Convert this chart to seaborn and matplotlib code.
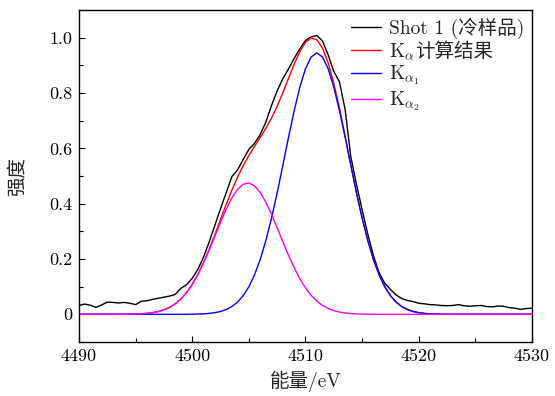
import numpy as np
import pandas as pd
import matplotlib
matplotlib.use("Agg")
import matplotlib.pyplot as plt
import seaborn as sns
from matplotlib.ticker import MultipleLocator

# energy grid (eV), 0.5 eV steps
energy = np.arange(4490.0, 4530.01, 0.5)

shot1 = [
    0.032, 0.037, 0.033, 0.025, 0.034, 0.044, 0.043, 0.041, 0.043, 0.040,
    0.035, 0.047, 0.049, 0.054, 0.058, 0.062, 0.066, 0.072, 0.094, 0.107,
    0.130, 0.163, 0.207, 0.262, 0.322, 0.382, 0.440, 0.498, 0.522, 0.560,
    0.596, 0.618, 0.650, 0.695, 0.755, 0.808, 0.852, 0.887, 0.925, 0.960,
    0.990, 1.003, 1.008, 0.988, 0.938, 0.878, 0.840, 0.740, 0.570, 0.470,
    0.378, 0.290, 0.212, 0.150, 0.112, 0.090, 0.070, 0.057, 0.050, 0.046,
    0.040, 0.038, 0.035, 0.034, 0.032, 0.031, 0.032, 0.035, 0.031, 0.029,
    0.031, 0.032, 0.028, 0.027, 0.030, 0.029, 0.024, 0.022, 0.018, 0.021,
    0.022,
]

ka_fit = [
    0, 0, 0, 0, 0, 0, 0, 0, 0.0003, 0.0006,
    0.0011, 0.0020, 0.0036, 0.0061, 0.0101, 0.0162, 0.0251, 0.0379, 0.0554, 0.0785,
    0.1084, 0.1448, 0.1876, 0.2361, 0.2887, 0.3432, 0.3974, 0.4490, 0.4960, 0.5377,
    0.5743, 0.6073, 0.6389, 0.6722, 0.7095, 0.7523, 0.8009, 0.8529, 0.9043, 0.9497,
    0.9831, 0.9988, 0.9928, 0.9626, 0.9088, 0.8344, 0.7443, 0.6444, 0.5414, 0.4410,
    0.3486, 0.2670, 0.1983, 0.1428, 0.0996, 0.0674, 0.0442, 0.0281, 0.0173, 0.0103,
    0.0060, 0.0034, 0.0018, 0.0009, 0.0004, 0.0002, 0, 0, 0, 0,
    0, 0, 0, 0, 0, 0, 0, 0, 0, 0,
    0,
]

ka1 = [
    0, 0, 0, 0, 0, 0, 0, 0, 0, 0,
    0, 0, 0, 0, 0, 0, 0, 0, 0, 0,
    0.0005, 0.0010, 0.0018, 0.0034, 0.0060, 0.0103, 0.0173, 0.0281, 0.0442, 0.0674,
    0.0996, 0.1427, 0.1981, 0.2666, 0.3477, 0.4394, 0.5385, 0.6395, 0.7360, 0.8210,
    0.8877, 0.9303, 0.9450, 0.9303, 0.8877, 0.8210, 0.7360, 0.6395, 0.5385, 0.4394,
    0.3477, 0.2666, 0.1981, 0.1427, 0.0996, 0.0674, 0.0442, 0.0281, 0.0173, 0.0103,
    0.0060, 0.0034, 0.0018, 0.0009, 0.0004, 0.0002, 0, 0, 0, 0,
    0, 0, 0, 0, 0, 0, 0, 0, 0, 0,
    0,
]

ka2 = [
    0, 0, 0, 0, 0, 0, 0, 0, 0.0003, 0.0006,
    0.0011, 0.0020, 0.0036, 0.0061, 0.0101, 0.0162, 0.0251, 0.0379, 0.0554, 0.0785,
    0.1079, 0.1438, 0.1858, 0.2327, 0.2827, 0.3329, 0.3801, 0.4209, 0.4518, 0.4703,
    0.4747, 0.4646, 0.4408, 0.4056, 0.3618, 0.3129, 0.2624, 0.2134, 0.1683, 0.1287,
    0.0954, 0.0685, 0.0478, 0.0323, 0.0211, 0.0134, 0.0083, 0.0049, 0.0029, 0.0016,
    0.0009, 0.0004, 0.0002, 0, 0, 0, 0, 0, 0, 0,
    0, 0, 0, 0, 0, 0, 0, 0, 0, 0,
    0, 0, 0, 0, 0, 0, 0, 0, 0, 0,
    0,
]

names = ["Shot 1 (冷样品)", "Kα计算结果", "Kα1", "Kα2"]
# legend labels; the Chinese part of the 2nd entry is drawn separately (mathtext has no CJK fallback)
legend_labels = ["Shot 1 (冷样品)", r"K$_\alpha$", r"K$_{\alpha_1}$", r"K$_{\alpha_2}$"]
fit_suffix = "计算结果"
colors = ["#000000", "#ff0000", "#0000ff", "#ff00ff"]

x_ticks = [4490, 4500, 4510, 4520, 4530]
y_ticks = [0, 0.2, 0.4, 0.6, 0.8, 1.0]
y_ticklabels = ["0", "0.2", "0.4", "0.6", "0.8", "1.0"]

df = pd.concat([
    pd.DataFrame({"energy": energy, "intensity": vals, "series": name})
    for name, vals in zip(names, [shot1, ka_fit, ka1, ka2])
])

sns.set_theme(style="ticks")
plt.rcParams["font.family"] = ["cmr10", "Noto Sans CJK SC"]
plt.rcParams["mathtext.fontset"] = "cm"
plt.rcParams["axes.unicode_minus"] = False

fig, ax = plt.subplots(figsize=(5.55, 3.96), dpi=100)
fig.subplots_adjust(left=0.1423, right=0.9586, top=0.9747, bottom=0.1364)

sns.lineplot(data=df, x="energy", y="intensity", hue="series", hue_order=names,
             palette=colors, linewidth=1.0, legend=False, ax=ax)

ax.set_xlim(4490, 4530)
ax.set_ylim(-0.1, 1.1)
ax.set_xticks(x_ticks)
ax.set_xticklabels([str(t) for t in x_ticks])
ax.set_yticks(y_ticks)
ax.set_yticklabels(y_ticklabels)
ax.xaxis.set_minor_locator(MultipleLocator(5))
ax.yaxis.set_minor_locator(MultipleLocator(0.1))
ax.tick_params(which="both", direction="in", top=False, right=False,
               labelsize=13, width=0.8, colors="black")
ax.tick_params(which="major", length=4.5, pad=5)
ax.tick_params(which="minor", length=3)
for sp in ax.spines.values():
    sp.set_visible(True)
    sp.set_linewidth(1.0)
    sp.set_color("black")

ax.set_xlabel("能量/eV", fontsize=14, labelpad=5)
ax.set_ylabel("强度", fontsize=14, labelpad=16)

leg = ax.legend(ax.lines[:4], legend_labels, loc="upper right", bbox_to_anchor=(1.0, 1.002),
                frameon=False, fontsize=14, handlelength=1.55, handletextpad=0.4,
                labelspacing=0.12, borderaxespad=0.0)

# append the Chinese part of the fit label right after "K_alpha"
fig.canvas.draw()
t = leg.get_texts()[1]
bb = t.get_window_extent()
x0, y0 = t.get_transform().transform(t.get_position())
fig.text((bb.x1 + 0.5) / fig.bbox.width, y0 / fig.bbox.height, fit_suffix,
         fontsize=14, family=["Noto Sans CJK SC"], va="baseline", ha="left")

fig.savefig("out.png", dpi=100)
